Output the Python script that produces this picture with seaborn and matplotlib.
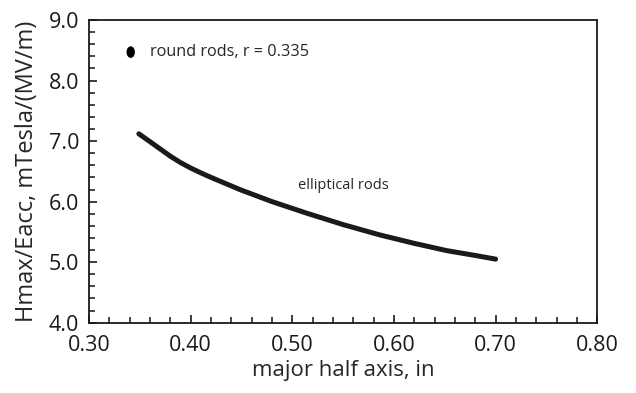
import numpy as np
import pandas as pd
import matplotlib
matplotlib.use("Agg")
import matplotlib.pyplot as plt
from matplotlib.ticker import MultipleLocator
from matplotlib.path import Path
from matplotlib.transforms import Affine2D
import seaborn as sns

# elliptical rods curve
half_axis = [0.349, 0.360, 0.370, 0.380, 0.390, 0.400, 0.410, 0.420, 0.449, 0.480,
             0.514, 0.550, 0.586, 0.620, 0.652, 0.680, 0.700]
hmax_eacc = [7.12, 6.99, 6.87, 6.75, 6.645, 6.555, 6.475, 6.40, 6.195, 6.00,
             5.81, 5.62, 5.45, 5.31, 5.19, 5.11, 5.05]

# round rods single point
round_r = [0.341]
round_h = [8.47]

x_ticks = [0.30, 0.40, 0.50, 0.60, 0.70, 0.80]
y_ticks = [4.0, 5.0, 6.0, 7.0, 8.0, 9.0]

sns.set_style("ticks")
plt.rcParams['font.family'] = ['Open Sans', 'DejaVu Sans']
plt.rcParams['xtick.direction'] = 'in'
plt.rcParams['ytick.direction'] = 'in'

curve = pd.DataFrame({'x': half_axis, 'y': hmax_eacc})
dot = pd.DataFrame({'x': round_r, 'y': round_h})

# slightly tall elliptical dot like the original
oval = Path.unit_circle().transformed(Affine2D().scale(0.72, 1.0))

fig = plt.figure(figsize=(6.36, 3.93), dpi=100)
ax = fig.add_axes([0.140, 0.179, 0.799, 0.770])

sns.lineplot(data=curve, x='x', y='y', ax=ax, color='#1a1a1a', linewidth=3.6,
             solid_capstyle='round', solid_joinstyle='round')
sns.scatterplot(data=dot, x='x', y='y', ax=ax, color='black', s=70, marker=oval,
                edgecolor='none')

ax.set_xlim(0.30, 0.80)
ax.set_ylim(4.0, 9.0)
ax.set_xticks(x_ticks)
ax.set_yticks(y_ticks)
ax.set_xticklabels([f"{v:.2f}" for v in x_ticks])
ax.set_yticklabels([f"{v:.1f}" for v in y_ticks])
ax.xaxis.set_minor_locator(MultipleLocator(0.02))
ax.yaxis.set_minor_locator(MultipleLocator(0.2))
ax.tick_params(which='major', length=6, width=1.2, labelsize=15.5, colors='#1a1a1a')
ax.tick_params(axis='x', which='major', pad=9)
ax.tick_params(axis='y', which='major', pad=7)
ax.tick_params(which='minor', length=4, width=1.2)
ax.tick_params(top=False, right=False, which='both')

for s in ax.spines.values():
    s.set_linewidth(1.3)
    s.set_color('#1a1a1a')

ax.set_xlabel('major half axis, in', fontsize=16, labelpad=3)
ax.set_ylabel('Hmax/Eacc, mTesla/(MV/m)', fontsize=17, labelpad=7)

ax.text(0.360, 8.47, 'round rods, r = 0.335', fontsize=11.7, va='center', ha='left')
ax.text(0.55, 6.26, 'elliptical rods', fontsize=10.5, va='center', ha='center')

fig.savefig('out.png', dpi=100)
